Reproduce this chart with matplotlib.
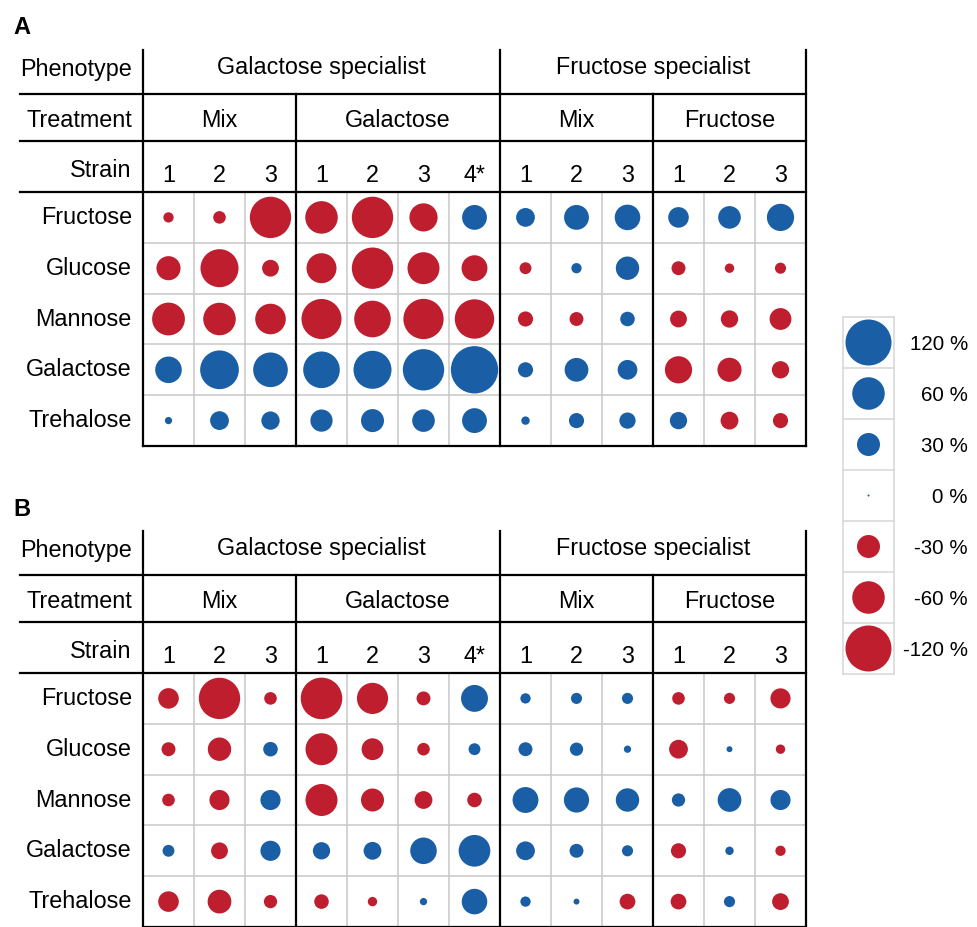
import matplotlib
matplotlib.use("Agg")
import matplotlib.pyplot as plt
import numpy as np

plt.rcParams['font.family'] = ['Liberation Sans', 'DejaVu Sans']

# ---------------- data ----------------
sugars = ["Fructose", "Glucose", "Mannose", "Galactose", "Trehalose"]
phenotypes = ["Galactose specialist", "Fructose specialist"]
phenotype_span = [7, 6]
treatments = ["Mix", "Galactose", "Mix", "Fructose"]
treatment_span = [3, 4, 3, 3]
strains = ["1", "2", "3", "1", "2", "3", "4*", "1", "2", "3", "1", "2", "3"]

values_a = [
    [-6, -9, -97, -60, -97, -45, 35, 20, 35, 37, 24, 29, 42],      # Fructose
    [-33, -82, -16, -51, -97, -58, -38, -8, 6, 31, -11, -5, -7],   # Glucose
    [-61, -60, -53, -91, -76, -92, -88, -13, -11, 12, -16, -17, -27],  # Mannose
    [40, 85, 68, 76, 82, 97, 127, 13, 32, 22, -42, -33, -17],      # Galactose
    [3, 20, 19, 28, 30, 29, 35, 4, 13, 15, 17, -18, -13],          # Trehalose
]
values_b = [
    [-24, -97, -9, -98, -55, -11, 41, 6, 7, 7, -9, -7, -23],
    [-11, -31, 12, -58, -27, -9, 8, 11, 10, 3, -20, 2, -5],
    [-9, -23, 23, -58, -30, -18, -12, 38, 36, 31, 10, 32, 23],
    [8, -16, 23, 17, 18, 40, 57, 20, 11, 7, -13, 4, -6],
    [-24, -32, -10, -12, -5, 3, 37, 6, 2, -14, -14, 7, -16],
]
legend_values = [120, 60, 30, 0, -30, -60, -120]

# ---------------- style ----------------
W, H = 978, 927
fig = plt.figure(figsize=(W / 100, H / 100), dpi=100)
BLUE = '#1a5ea6'
RED = '#be1e2d'
GRID = '#c8c8c8'
FS = 16.8
LFS = 14.8


def px_axes(x0, y0, x1, y1):
    return fig.add_axes([x0 / W, 1 - y1 / H, (x1 - x0) / W, (y1 - y0) / H])


def sizes(vals):
    v = np.abs(np.asarray(vals, float))
    d_px = np.maximum(46 * np.sqrt(v / 120.0), 2.0)
    return (d_px * 0.72) ** 2


def colors(vals):
    return [BLUE if v >= 0 else RED for v in np.ravel(vals)]


def draw_panel(top, vals, letter):
    y0 = top + 142
    ax = px_axes(143, y0, 806, y0 + 254)
    ncol, nrow = len(strains), len(sugars)
    ax.set_xlim(-0.5, ncol - 0.5)
    ax.set_ylim(nrow - 0.5, -0.5)
    ax.axis('off')

    strain_top = -1.5
    treat_top = -2.43
    pheno_top = -3.30
    left = -2.91
    right = ncol - 0.5
    bottom = nrow - 0.5

    pheno_bounds = np.cumsum(phenotype_span) - 0.5
    treat_bounds = np.cumsum(treatment_span) - 0.5

    # gray inner grid
    for c in range(1, ncol):
        b = c - 0.5
        if b in treat_bounds:
            continue
        ax.plot([b, b], [-0.5, bottom], color=GRID, lw=1.1, zorder=1, clip_on=False)
    for r in range(1, nrow):
        ax.plot([-0.5, right], [r - 0.5, r - 0.5], color=GRID, lw=1.1, zorder=1, clip_on=False)

    kw = dict(color='black', lw=1.6, zorder=3, clip_on=False, solid_capstyle='projecting')
    for yb in [treat_top, strain_top, -0.5]:
        ax.plot([left, right], [yb, yb], **kw)
    ax.plot([-0.5, right], [bottom, bottom], **kw)
    for xb in [-0.5] + list(pheno_bounds):
        ax.plot([xb, xb], [pheno_top, bottom], **kw)
    for xb in treat_bounds:
        if xb in pheno_bounds:
            continue
        ax.plot([xb, xb], [treat_top, bottom], **kw)

    # bubbles
    vals = np.asarray(vals, float)
    cc, rr = np.meshgrid(np.arange(ncol), np.arange(nrow))
    ax.scatter(cc.ravel(), rr.ravel(), s=sizes(vals.ravel()), c=colors(vals),
               linewidths=0, zorder=2, clip_on=False)

    # texts
    lx = -0.72
    for r, s in enumerate(sugars):
        ax.text(lx, r + 0.13, s, ha='right', va='baseline', fontsize=FS)
    ax.text(lx, -0.80, "Strain", ha='right', va='baseline', fontsize=FS)
    for c, s in enumerate(strains):
        ax.text(c, -0.70, s, ha='center', va='baseline', fontsize=FS)
    ax.text(lx, -1.78, "Treatment", ha='right', va='baseline', fontsize=FS)
    starts = np.concatenate([[-0.5], treat_bounds[:-1]])
    for s, a, b in zip(treatments, starts, treat_bounds):
        ax.text((a + b) / 2, -1.78, s, ha='center', va='baseline', fontsize=FS)
    ax.text(lx, -2.78, "Phenotype", ha='right', va='baseline', fontsize=FS)
    starts = np.concatenate([[-0.5], pheno_bounds[:-1]])
    for s, a, b in zip(phenotypes, starts, pheno_bounds):
        ax.text((a + b) / 2, -2.82, s, ha='center', va='baseline', fontsize=FS)

    fig.text(13 / W, 1 - (top - 22) / H, letter, fontsize=17, fontweight='bold',
             ha='left', va='center')


draw_panel(50, values_a, "A")
draw_panel(531, values_b, "B")

# ---------------- legend ----------------
lax = px_axes(843, 317, 894, 674)
n = len(legend_values)
lax.set_xlim(-0.5, 0.5)
lax.set_ylim(n - 0.5, -0.5)
lax.axis('off')
LG = '#d6d6d6'
for r in range(n + 1):
    lax.plot([-0.5, 0.5], [r - 0.5, r - 0.5], color=LG, lw=1.1, clip_on=False, zorder=1)
for xb in [-0.5, 0.5]:
    lax.plot([xb, xb], [-0.5, n - 0.5], color=LG, lw=1.1, clip_on=False, zorder=1)
lax.scatter(np.zeros(n), np.arange(n), s=sizes(legend_values), c=colors(legend_values),
            linewidths=0, zorder=2, clip_on=False)
for r, v in enumerate(legend_values):
    lax.text(1.95, r + 0.15, f"{v} %", ha='right', va='baseline', fontsize=LFS)

fig.savefig("out.png", dpi=100)
